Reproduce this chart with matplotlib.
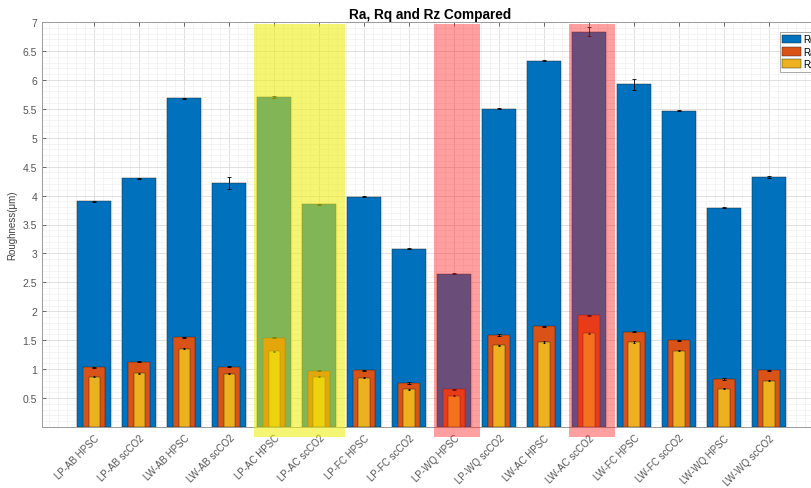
import numpy as np
import matplotlib
matplotlib.use("Agg")
import matplotlib.pyplot as plt
from matplotlib.patches import Rectangle
from matplotlib.ticker import AutoMinorLocator

plt.rcParams['font.family'] = ['Liberation Sans', 'DejaVu Sans']

# ---- data ----
samples = ['LP-AB HPSC', 'LP-AB scCO2', 'LW-AB HPSC', 'LW-AB scCO2',
           'LP-AC HPSC', 'LP-AC scCO2', 'LP-FC HPSC', 'LP-FC scCO2',
           'LP-WQ HPSC', 'LP-WQ scCO2', 'LW-AC HPSC', 'LW-AC scCO2',
           'LW-FC HPSC', 'LW-FC scCO2', 'LW-WQ HPSC', 'LW-WQ scCO2']
rq = [3.90, 4.30, 5.68, 4.22, 5.70, 3.85, 3.98, 3.08,
      2.65, 5.50, 6.33, 6.83, 5.92, 5.47, 3.79, 4.32]
rq_err = [0.01, 0.01, 0.01, 0.10, 0.02, 0.01, 0.01, 0.01,
          0.01, 0.01, 0.01, 0.08, 0.10, 0.01, 0.01, 0.01]
ra = [1.03, 1.13, 1.55, 1.04, 1.54, 0.97, 0.98, 0.76,
      0.65, 1.59, 1.74, 1.93, 1.65, 1.50, 0.83, 0.98]
ra_err = [0.01] * 16
rz = [0.87, 0.93, 1.35, 0.92, 1.31, 0.87, 0.85, 0.65,
      0.54, 1.41, 1.47, 1.62, 1.47, 1.32, 0.66, 0.80]
rz_err = [0.01] * 16

# highlighted groups (index ranges) and their colours
highlights = [((4, 5), '#eeee00', 0.55),
              ((8, 8), '#ff1a1a', 0.42),
              ((11, 11), '#ff1a1a', 0.42)]

x = np.arange(len(samples))

fig = plt.figure(figsize=(8.12, 4.89), dpi=100)
ax = fig.add_axes([42 / 812, 1 - 428 / 489, 776 / 812, 405 / 489])

err_kw = dict(ecolor='black', elinewidth=0.6, capsize=1.5, capthick=0.6)
ax.bar(x, rq, width=0.75, color='#0072BD', edgecolor='#1a1a1a', linewidth=0.3,
       yerr=rq_err, error_kw=err_kw, label='Rq', zorder=2)
ax.bar(x, ra, width=0.5, color='#D95319', edgecolor='#1a1a1a', linewidth=0.3,
       yerr=ra_err, error_kw=err_kw, label='Ra', zorder=3)
ax.bar(x, rz, width=0.25, color='#EDB120', edgecolor='#1a1a1a', linewidth=0.3,
       yerr=rz_err, error_kw=dict(err_kw, capsize=1.0), label='Rz', zorder=4)

# translucent highlight boxes (they run over the axis into the labels)
for (i0, i1), col, a in highlights:
    left = i0 - 0.45
    right = i1 + 0.58
    ax.add_patch(Rectangle((left, -0.17), right - left, 7.14, facecolor=col,
                           alpha=a, edgecolor='none', zorder=5, clip_on=False))

ax.set_xlim(-1.16, 16.09)
ax.set_ylim(0, 7)
ax.set_xticks(x)
ax.set_xticklabels(samples, rotation=45, ha='right', va='top',
                   rotation_mode='anchor', color='#404040')
ax.set_yticks(np.arange(0.5, 7.01, 0.5))
ax.set_yticklabels([f'{v:g}' for v in np.arange(0.5, 7.01, 0.5)])
ax.xaxis.set_minor_locator(AutoMinorLocator(5))
ax.yaxis.set_minor_locator(AutoMinorLocator(5))
ax.tick_params(axis='both', which='major', direction='in', length=3,
               width=0.6, colors='#555555', labelsize=7.5, top=True)
ax.tick_params(axis='x', which='major', pad=4, labelsize=7)
ax.tick_params(which='minor', length=0)
ax.grid(which='major', color='#dcdcdc', linewidth=0.6, zorder=0)
ax.grid(which='minor', color='#f0f0f0', linewidth=0.5, zorder=0)
ax.set_axisbelow(True)
for s in ax.spines.values():
    s.set_color('#9a9a9a')
    s.set_linewidth(0.7)

ax.set_ylabel('Roughness(μm)', fontsize=7, color='#404040', labelpad=4)
ax.set_title('Ra, Rq and Rz Compared', fontsize=9.8, fontweight='bold', pad=3)

# legend sits at the right edge, partly outside the picture as in the source
leg = fig.legend(loc='upper left', bbox_to_anchor=(775 / 812, 1 - 28 / 489),
                 fontsize=7, handlelength=1.9, handleheight=1.0,
                 borderpad=0.25, labelspacing=0.25, handletextpad=0.25,
                 fancybox=False, framealpha=1, edgecolor='#9a9a9a')
leg.get_frame().set_linewidth(0.6)

fig.savefig('out.png', dpi=100)
